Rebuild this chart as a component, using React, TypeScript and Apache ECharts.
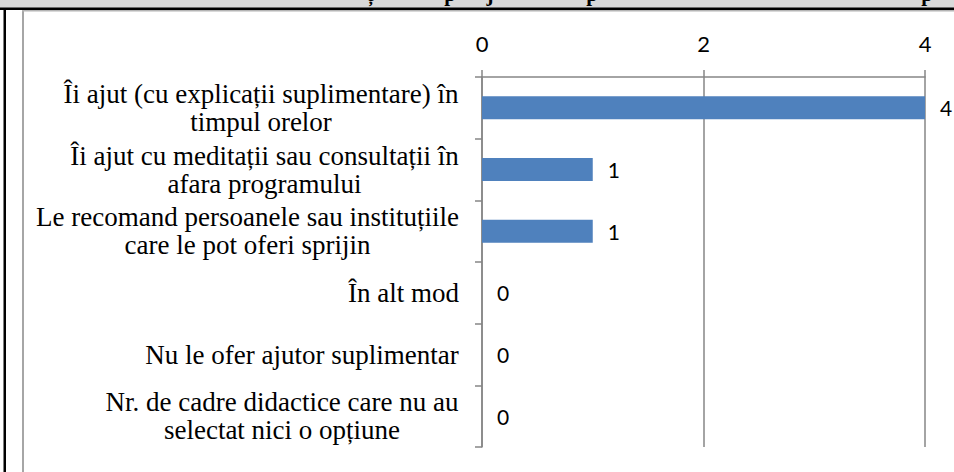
import React, { useEffect, useRef } from 'react';
import * as echarts from 'echarts';

// ---- data ----
const categories: string[] = [
  'Îi ajut (cu explicații suplimentare) în\ntimpul orelor',
  'Îi ajut cu meditații sau consultații în\nafara programului',
  'Le recomand persoanele sau instituțiile\ncare le pot oferi sprijin',
  'În alt mod',
  'Nu le ofer ajutor suplimentar',
  'Nr. de cadre didactice care nu au\nselectat nici o opțiune',
];
const values: number[] = [4, 1, 1, 0, 0, 0];
const axisMin = 0;
const axisMax = 4;
const axisStep = 2;
// visible descenders of the cut-off title line at the very top
const titleGlyphs: string[] = ['ț', 'p', 'j', 'p', 'p'];

// ---- layout (not data) ----
const titleGlyphX = [370, 450, 490, 592, 927];

const SERIF = "'Liberation Serif', 'Times New Roman', serif";
const SANS = "Lato, Carlito, Calibri, 'Open Sans', sans-serif";
const GRAY = '#868686';

export default function App() {
  const ref = useRef<HTMLDivElement>(null);

  useEffect(() => {
    if (!ref.current) return;
    const chart = echarts.init(ref.current, undefined, { renderer: 'svg' });

    const catFontSize = 27;
    const ctx = document.createElement('canvas').getContext('2d')!;
    ctx.font = `${catFontSize}px ${SERIF}`;
    const rich: Record<string, any> = {};
    categories.forEach((c, i) => {
      const w = Math.ceil(
        Math.max(...c.split('\n').map((l) => ctx.measureText(l).width))
      );
      rich['c' + i] = {
        width: w,
        align: 'center',
        fontFamily: SERIF,
        fontSize: catFontSize,
        lineHeight: 28,
        color: '#000',
      };
    });

    const lineStyle = { color: GRAY, width: 1.5 };

    const graphic: any[] = [
      { type: 'rect', z: 100, shape: { x: 0, y: 0, width: 954, height: 8 }, style: { fill: '#d9d9d9' } },
      ...titleGlyphs.map((g, i) => ({
        type: 'text',
        z: 101,
        x: titleGlyphX[i],
        y: -5.6,
        style: {
          text: g,
          fontFamily: SERIF,
          fontWeight: 'bold',
          fontSize: 21,
          fill: '#000',
          align: 'center',
          verticalAlign: 'middle',
        },
      })),
      { type: 'rect', z: 102, shape: { x: 0, y: 7.5, width: 954, height: 2.5 }, style: { fill: '#000' } },
      { type: 'rect', z: 102, shape: { x: 3.5, y: 8, width: 2.5, height: 470 }, style: { fill: '#000' } },
      { type: 'rect', z: 100, shape: { x: 22, y: 10, width: 2, height: 470 }, style: { fill: '#a6a6a6' } },
      { type: 'rect', z: 100, shape: { x: 22, y: 10, width: 940, height: 1.5 }, style: { fill: '#b4b4b4' } },
    ];

    const option: any = {
      animation: false,
      backgroundColor: '#ffffff',
      grid: { left: 482, right: 29, top: 77, bottom: 25, containLabel: false },
      xAxis: {
        type: 'value',
        position: 'top',
        min: axisMin,
        max: axisMax,
        interval: axisStep,
        axisLine: { show: true, lineStyle },
        axisTick: { show: true, length: 7, lineStyle },
        splitLine: { show: true, lineStyle },
        axisLabel: {
          fontFamily: SANS,
          fontSize: 22,
          lineHeight: 22,
          color: '#000',
          margin: 23,
        },
      },
      yAxis: {
        type: 'category',
        inverse: true,
        data: categories,
        axisLine: { show: true, lineStyle },
        axisTick: { show: true, length: 7, lineStyle },
        splitLine: { show: false },
        axisLabel: {
          interval: 0,
          margin: 23,
          formatter: (v: string) => {
            const i = categories.indexOf(v);
            return v
              .split('\n')
              .map((l) => `{c${i}|${l}}`)
              .join('\n');
          },
          rich,
        },
      },
      series: [
        {
          type: 'bar',
          data: values,
          barWidth: 23,
          itemStyle: { color: '#4f81bd' },
          label: {
            show: true,
            position: 'right',
            distance: 15,
            fontFamily: SANS,
            fontSize: 21,
            color: '#000',
          },
        },
      ],
      graphic,
    };

    chart.setOption(option);
    return () => chart.dispose();
  }, []);

  return (
    <div
      ref={ref}
      style={{ position: 'absolute', left: 0, top: 0, width: 954, height: 472 }}
    />
  );
}
